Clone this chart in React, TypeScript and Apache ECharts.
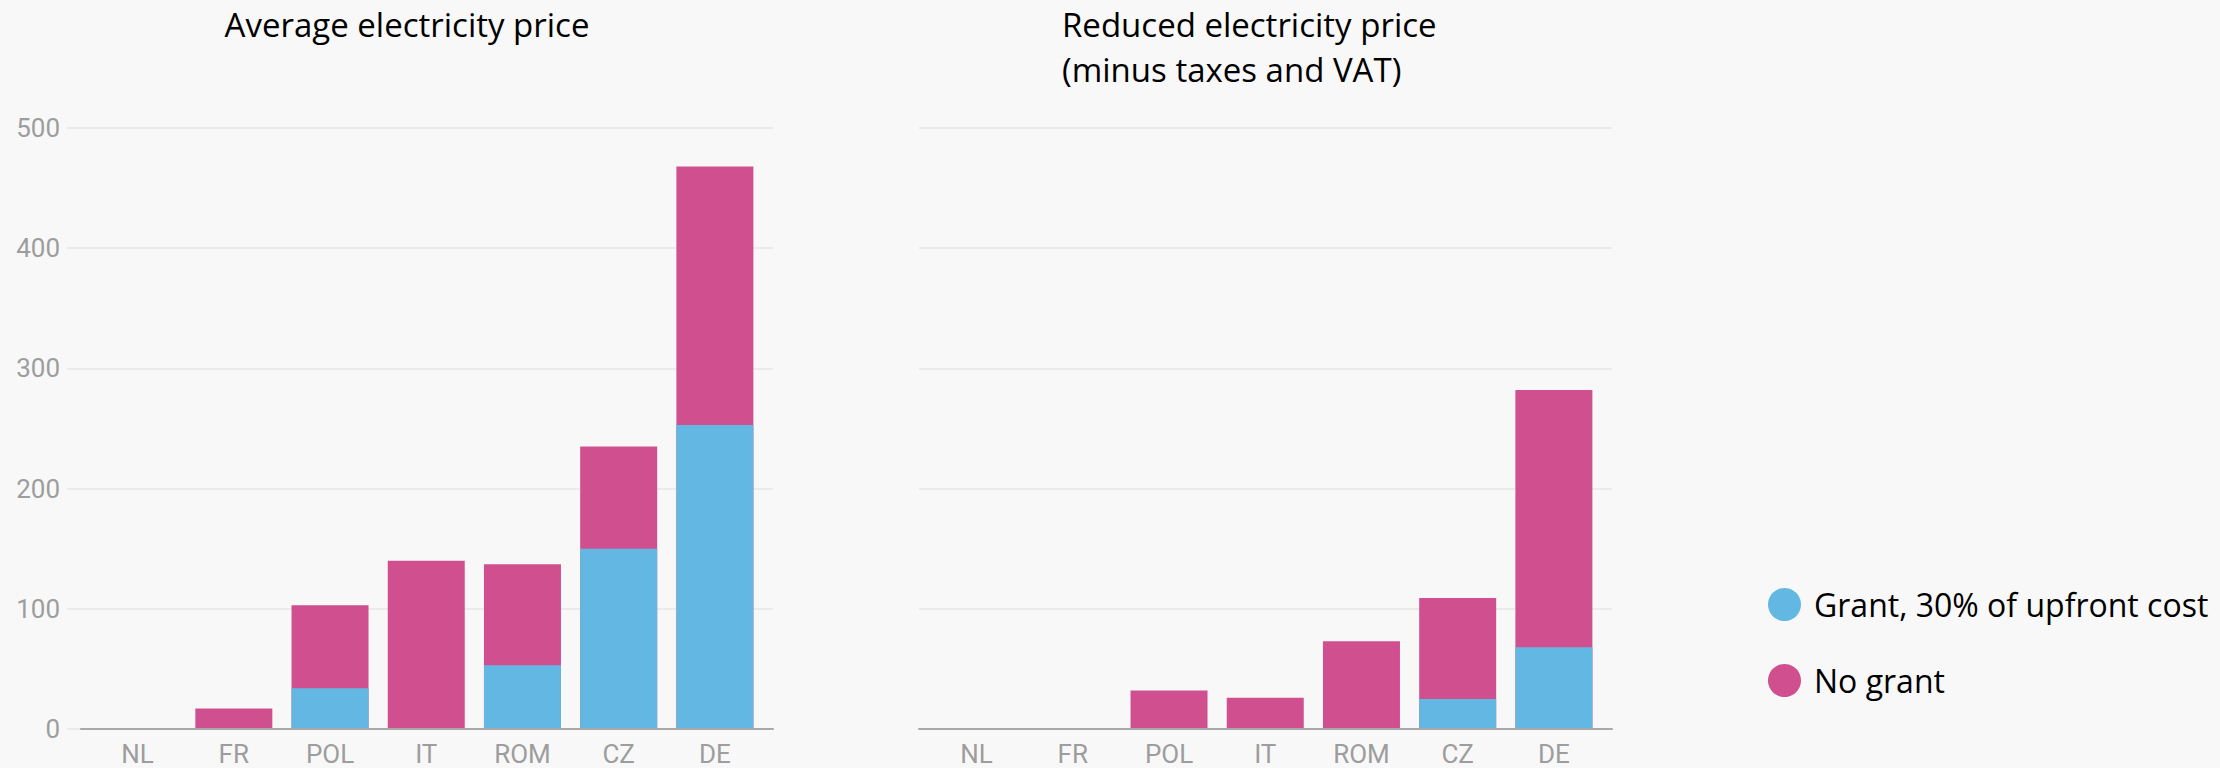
import React, { useEffect, useRef } from "react";
import * as echarts from "echarts";

const categories = ["NL", "FR", "POL", "IT", "ROM", "CZ", "DE"];
const avgNoGrant = [0, 17, 103, 140, 137, 235, 468];
const avgGrant = [0, 0, 34, 0, 53, 150, 253];
const redNoGrant = [0, 0, 32, 26, 73, 109, 282];
const redGrant = [0, 0, 0, 0, 0, 25, 68];
const yTicks = [0, 100, 200, 300, 400, 500];
const chartTitles = [
  "Average electricity price",
  "Reduced electricity price\n(minus taxes and VAT)",
];
const seriesNames = ["Grant, 30% of upfront cost", "No grant"];

const BLUE = "#62b8e3";
const PINK = "#d0508f";
const TITLE_FONT = "'Open Sans', 'Noto Sans', sans-serif";
const AXIS_FONT = "Roboto, 'Noto Sans', sans-serif";

export default function App() {
  const ref = useRef<HTMLDivElement>(null);

  useEffect(() => {
    document.body.style.margin = "0";
    if (!ref.current) return;
    const chart = echarts.init(ref.current, undefined, { renderer: "svg" });

    const yMin = yTicks[0];
    const yMax = yTicks[yTicks.length - 1];
    const yInt = yTicks[1] - yTicks[0];
    const top = 128;
    const height = 601;

    const grids = [
      { left: 67, top, width: 706, height }, // left gridlines
      { left: 89.5, top, width: 673.5, height }, // left bars
      { left: 81, top, width: 692, height }, // left axis line
      { left: 919, top, width: 693, height }, // right gridlines + axis line
      { left: 928.5, top, width: 673.5, height }, // right bars
    ];

    const labelStyle = {
      color: "#9d9d9d",
      fontSize: 26,
      fontFamily: AXIS_FONT,
    };

    const xAxis = grids.map((_, i) => {
      const showLabels = i === 1 || i === 4;
      const showLine = i === 2 || i === 3;
      return {
        type: "category",
        gridIndex: i,
        data: categories,
        axisTick: { show: false },
        axisLine: {
          show: showLine,
          lineStyle: { color: "#a9a9a9", width: 2 },
        },
        axisLabel: { show: showLabels, margin: 12, ...labelStyle },
        splitLine: { show: false },
        z: showLine ? 5 : 2,
      };
    });

    const yAxis = grids.map((_, i) => {
      const visible = i === 0 || i === 3;
      return {
        type: "value",
        gridIndex: i,
        min: yMin,
        max: yMax,
        interval: yInt,
        show: visible,
        axisLine: { show: false },
        axisTick: { show: false },
        axisLabel: { show: i === 0, margin: 7, ...labelStyle },
        splitLine: {
          show: visible,
          lineStyle: { color: "#ebebeb", width: 2 },
        },
      };
    });

    const bar = (
      name: string,
      data: number[],
      color: string,
      axis: number
    ) => ({
      type: "bar",
      name,
      data,
      xAxisIndex: axis,
      yAxisIndex: axis,
      barWidth: 77,
      barGap: "-100%",
      itemStyle: { color },
      emphasis: { disabled: true },
    });

    const titleText = {
      fontFamily: TITLE_FONT,
      fontSize: 33,
      fontWeight: "normal",
      color: "#000",
    };

    chart.setOption({
      animation: false,
      backgroundColor: "#f8f8f8",
      title: [
        {
          text: chartTitles[0],
          left: 402,
          top: 3,
          textAlign: "center",
          textStyle: titleText,
        },
        {
          text: chartTitles[1],
          left: 1057,
          top: -3,
          textStyle: { ...titleText, lineHeight: 45 },
        },
      ],
      legend: {
        orient: "vertical",
        left: 1763,
        top: 583,
        itemWidth: 33,
        itemHeight: 33,
        itemGap: 43,
        icon: "circle",
        data: seriesNames,
        selectedMode: false,
        textStyle: {
          fontFamily: TITLE_FONT,
          fontSize: 32,
          color: "#000",
          padding: [0, 0, 0, 8],
        },
      },
      grid: grids,
      xAxis,
      yAxis,
      series: [
        bar(seriesNames[1], avgNoGrant, PINK, 1),
        bar(seriesNames[0], avgGrant, BLUE, 1),
        bar(seriesNames[1], redNoGrant, PINK, 4),
        bar(seriesNames[0], redGrant, BLUE, 4),
      ],
    });

    return () => chart.dispose();
  }, []);

  return <div ref={ref} style={{ width: 2220, height: 768 }} />;
}
